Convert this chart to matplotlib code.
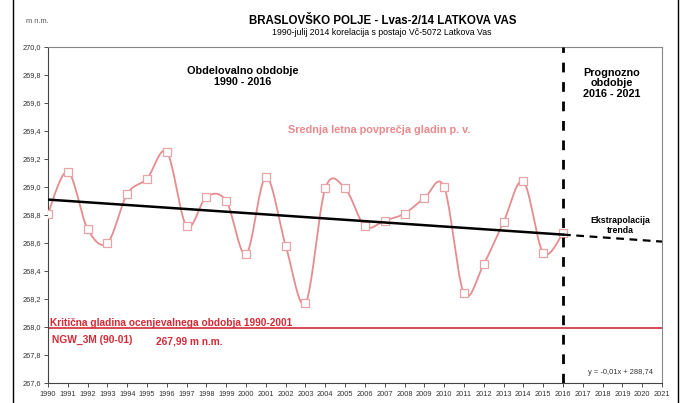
import numpy as np
import matplotlib
matplotlib.use("Agg")
import matplotlib.pyplot as plt
from matplotlib.ticker import FuncFormatter

plt.rcParams['font.family'] = ['Liberation Sans', 'DejaVu Sans']

years = list(range(1990, 2017))
levels = [268.81, 269.11, 268.70, 268.60, 268.95, 269.06, 269.25, 268.72, 268.93, 268.90,
          268.52, 269.07, 268.58, 268.17, 268.99, 268.99, 268.72, 268.76, 268.81, 268.92,
          269.00, 268.24, 268.45, 268.75, 269.04, 268.53, 268.67]
trend_years = [1990, 2016]
trend_vals = [268.91, 268.66]
extrap_years = [2016, 2021]
extrap_vals = [268.66, 268.61]
critical_level = 267.99
x_ticks = list(range(1990, 2022))
y_ticks = [267.6, 267.8, 268.0, 268.2, 268.4, 268.6, 268.8, 269.0, 269.2, 269.4, 269.6, 269.8, 270.0]


def catmull_rom(xs, ys, n=20):
    xs = np.asarray(xs, float)
    ys = np.asarray(ys, float)
    px = np.concatenate([[xs[0]], xs, [xs[-1]]])
    py = np.concatenate([[ys[0]], ys, [ys[-1]]])
    outx, outy = [], []
    t = np.linspace(0, 1, n, endpoint=False)
    for i in range(1, len(px) - 2):
        p0, p1, p2, p3 = [np.array([px[j], py[j]]) for j in (i - 1, i, i + 1, i + 2)]
        c1 = p1 + (p2 - p0) / 6
        c2 = p2 - (p3 - p1) / 6
        for tt in t:
            b = ((1 - tt) ** 3) * p1 + 3 * ((1 - tt) ** 2) * tt * c1 + 3 * (1 - tt) * tt ** 2 * c2 + tt ** 3 * p2
            outx.append(b[0]); outy.append(b[1])
    outx.append(xs[-1]); outy.append(ys[-1])
    return np.array(outx), np.array(outy)


fig = plt.figure(figsize=(6.86, 4.03), dpi=100)
ax = fig.add_axes([48 / 686, 1 - 383 / 403, 614 / 686, 336 / 403])

pink = '#E58C8F'
red = '#D42A36'

sx, sy = catmull_rom(years, levels)
ax.plot(sx, sy, color=pink, lw=1.3, zorder=3)
ax.plot(years, levels, ls='none', marker='s', ms=5.5, mfc='white', mec='#E8A3A6', mew=0.9, zorder=4)

ax.plot(trend_years, trend_vals, color='black', lw=1.8, zorder=5)
ax.plot(extrap_years, extrap_vals, color='black', lw=1.6, ls=(0, (3.5, 2.5)), zorder=5)

ax.axhline(critical_level, color=red, lw=1.2, zorder=2)
ax.axvline(2016, color='black', lw=2.0, ls=(0, (3.5, 3.5)), zorder=6)

ax.set_xlim(1990, 2021)
ax.set_ylim(267.6, 270.0)
ax.set_xticks(x_ticks)
ax.set_yticks(y_ticks)
ax.yaxis.set_major_formatter(FuncFormatter(lambda v, p: f"{v:.1f}".replace('.', ',')))
ax.tick_params(axis='both', labelsize=5.3, colors='#333333', length=3, width=0.6, pad=2)
ax.tick_params(axis='x', pad=3)
for s in ax.spines.values():
    s.set_color('#888888')
    s.set_linewidth(0.8)
ax.spines['left'].set_color('#444444')
ax.spines['bottom'].set_color('#444444')

# texts
fig.text(26 / 686, 1 - 21.5 / 403, 'm n.m.', fontsize=5.4, color='#555555', ha='left', va='center')
fig.text(383 / 686, 1 - 21 / 403, 'BRASLOVŠKO POLJE - Lvas-2/14 LATKOVA VAS', fontsize=8.3, fontweight='bold',
         ha='center', va='center')
fig.text(382 / 686, 1 - 32.5 / 403, '1990-julij 2014 korelacija s postajo Vč-5072 Latkova Vas', fontsize=6.3,
         ha='center', va='center')

ax.text(1999.85, 269.79, 'Obdelovalno obdobje\n1990 - 2016', fontsize=7.8, fontweight='bold', ha='center',
        va='center', linespacing=1.15)
ax.text(2018.45, 269.74, 'Prognozno\nobdobje\n2016 - 2021', fontsize=7.8, fontweight='bold', ha='center',
        va='center', linespacing=1.1)
ax.text(2002.1, 269.41, 'Srednja letna povprečja gladin p. v.', fontsize=7.8, fontweight='bold', color='#E8898C',
        ha='left', va='center')
ax.text(2018.9, 268.725, 'Ekstrapolacija\ntrenda', fontsize=6.3, fontweight='bold', ha='center', va='center',
        linespacing=1.1)
ax.text(1990.1, 268.025, 'Kritična gladina ocenjevalnega obdobja 1990-2001', fontsize=7.3, fontweight='bold',
        color=red, ha='left', va='center')
ax.text(1990.2, 267.907, 'NGW_3M (90-01)', fontsize=7.4, fontweight='bold', color=red, ha='left', va='center')
ax.text(1995.45, 267.893, '267,99 m n.m.', fontsize=7.3, fontweight='bold', color=red, ha='left', va='center')
ax.text(2018.9, 267.675, 'y = -0,01x + 288,74', fontsize=5.4, color='#333333', ha='center', va='center')

# outer frame lines
fig.add_artist(plt.Line2D([13 / 686, 13 / 686], [0, 1], color='black', lw=1.0))
fig.add_artist(plt.Line2D([678 / 686, 678 / 686], [0, 1], color='black', lw=1.0))

fig.savefig('out.png', dpi=100)
